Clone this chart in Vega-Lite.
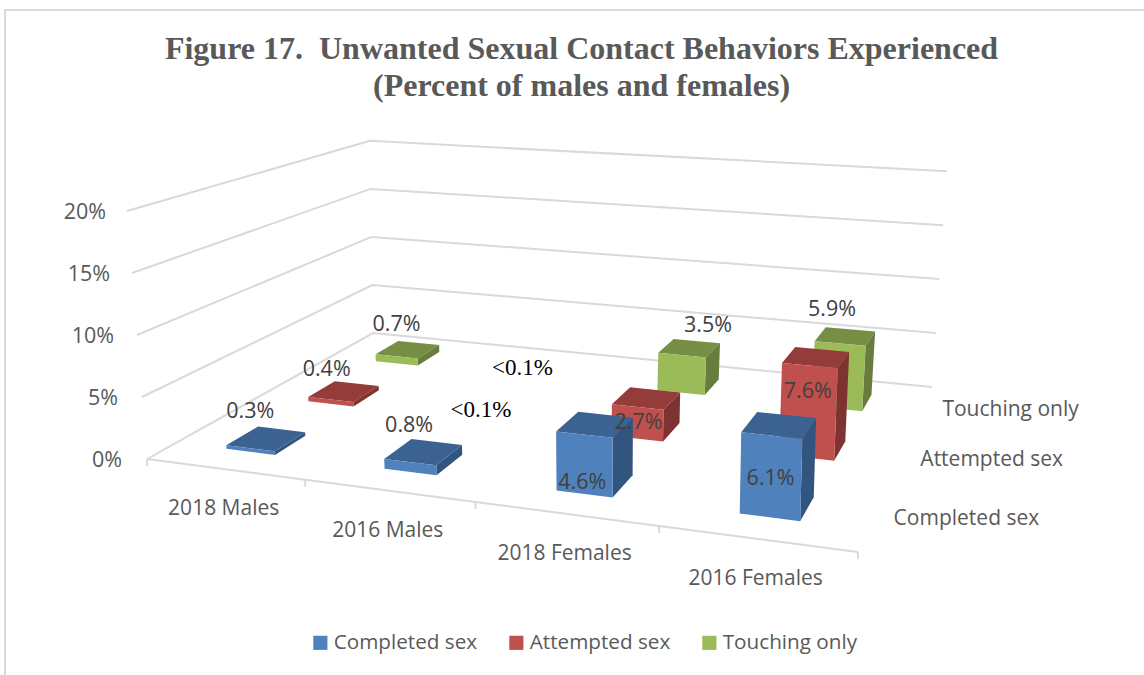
{"$schema":"https://vega.github.io/schema/vega-lite/v6.json","width":1141,"height":667,"padding":{"left":5,"top":10,"right":0,"bottom":0},"autosize":{"type":"none"},"background":"#ffffff","view":{"stroke":"#d9d9d9","strokeWidth":2,"fill":"#ffffff"},"title":{"text":["Figure 17.\u00a0 Unwanted Sexual Contact Behaviors Experienced","(Percent of males and females)"],"font":"Liberation Serif","fontSize":32,"fontWeight":"bold","color":"#595959","lineHeight":37,"anchor":"middle","frame":"group","dx":6,"offset":-125,"baseline":"bottom"},"data":{"values":[
{"kind":"level","value":0},{"kind":"level","value":5},{"kind":"level","value":10},{"kind":"level","value":15},{"kind":"level","value":20},
{"kind":"floor","value":0},
{"kind":"group","group":"2018 Males"},{"kind":"group","group":"2016 Males"},{"kind":"group","group":"2018 Females"},{"kind":"group","group":"2016 Females"},
{"kind":"series","series":"Completed sex"},{"kind":"series","series":"Attempted sex"},{"kind":"series","series":"Touching only"},
{"kind":"bar","group":"2018 Males","series":"Touching only","value":0.7,"label":"0.7%"},
{"kind":"bar","group":"2016 Males","series":"Touching only","value":0,"label":"<0.1%"},
{"kind":"bar","group":"2018 Females","series":"Touching only","value":3.5,"label":"3.5%"},
{"kind":"bar","group":"2016 Females","series":"Touching only","value":5.9,"label":"5.9%"},
{"kind":"bar","group":"2018 Males","series":"Attempted sex","value":0.4,"label":"0.4%"},
{"kind":"bar","group":"2016 Males","series":"Attempted sex","value":0,"label":"<0.1%"},
{"kind":"bar","group":"2018 Females","series":"Attempted sex","value":2.7,"label":"2.7%"},
{"kind":"bar","group":"2016 Females","series":"Attempted sex","value":7.6,"label":"7.6%"},
{"kind":"bar","group":"2018 Males","series":"Completed sex","value":0.3,"label":"0.3%"},
{"kind":"bar","group":"2016 Males","series":"Completed sex","value":0.8,"label":"0.8%"},
{"kind":"bar","group":"2018 Females","series":"Completed sex","value":4.6,"label":"4.6%"},
{"kind":"bar","group":"2016 Females","series":"Completed sex","value":6.1,"label":"6.1%"}
]},
"transform":[
{"calculate":"indexof(['2018 Males','2016 Males','2018 Females','2016 Females'],datum.group)","as":"gi"},
{"calculate":"indexof(['Completed sex','Attempted sex','Touching only'],datum.series)","as":"si"},
{"calculate":"datum.gi+0.343-(datum.si==0&&datum.gi<2?0.012:0)","as":"gl"},{"calculate":"datum.gi+0.657-(datum.si==0&&datum.gi<2?0.012:0)","as":"gr"},{"calculate":"datum.si+0.313","as":"sl"},{"calculate":"datum.si+0.687","as":"sh"},
{"calculate":"datum.kind=='bar'?[{f:'top',i:0,g:datum.gl,s:datum.sl,t:1},{f:'top',i:1,g:datum.gr,s:datum.sl,t:1},{f:'top',i:2,g:datum.gr,s:datum.sh,t:1},{f:'top',i:3,g:datum.gl,s:datum.sh,t:1},{f:'side',i:0,g:datum.gr,s:datum.sl,t:1},{f:'side',i:1,g:datum.gr,s:datum.sh,t:1},{f:'side',i:2,g:datum.gr,s:datum.sh,t:0},{f:'side',i:3,g:datum.gr,s:datum.sl,t:0},{f:'front',i:0,g:datum.gl,s:datum.sl,t:1},{f:'front',i:1,g:datum.gr,s:datum.sl,t:1},{f:'front',i:2,g:datum.gr,s:datum.sl,t:0},{f:'front',i:3,g:datum.gl,s:datum.sl,t:0},{f:'label',i:0,g:datum.gi+0.5,s:datum.sl,t:1}]:datum.kind=='level'?[{f:'grid',i:0,g:0,s:0,t:1},{f:'grid',i:1,g:0,s:3,t:1},{f:'grid',i:2,g:4,s:3,t:1},{f:'lvl',i:0,g:0,s:0,t:1}]:datum.kind=='floor'?[{f:'edge',i:0,g:0,s:0,t:0},{f:'edge',i:1,g:1,s:0,t:0},{f:'edge',i:2,g:2,s:0,t:0},{f:'edge',i:3,g:3,s:0,t:0},{f:'edge',i:4,g:4,s:0,t:0}]:datum.kind=='group'?[{f:'cat',i:0,g:datum.gi+0.5,s:0,t:0}]:[{f:'ser',i:0,g:4,s:datum.si+0.5,t:0}]","as":"verts"},
{"flatten":["verts"],"as":["vert"]},
{"calculate":"datum.vert.f","as":"f"},{"calculate":"datum.vert.i","as":"i"},
{"calculate":"datum.vert.g/4","as":"u"},{"calculate":"datum.vert.s/3","as":"v"},{"calculate":"(datum.value||0)*datum.vert.t*(datum.kind=='bar'?0.98:1)","as":"hh"},
{"calculate":"1-0.14125*datum.u+0.2906*datum.v","as":"w"},
{"calculate":"(1-datum.u)*(-1*(1-datum.v)-0.15*datum.v)+datum.u*(0.45*(1-datum.v)+0.75*datum.v)","as":"lean"},
{"calculate":"(589.8*datum.u+334.4*datum.v+147)/datum.w+datum.hh*datum.lean","as":"px"},
{"calculate":"(15*datum.u-29.2*datum.v+459)/datum.w-datum.hh*12.4/datum.w","as":"py"},
{"calculate":"datum.f=='front'?datum.series:datum.series+' '+datum.f","as":"face"},
{"calculate":"datum.py+7","as":"py2"}
],
"encoding":{
"x":{"field":"px","type":"quantitative","scale":{"domain":[5,1146],"nice":false,"zero":false},"axis":null},
"y":{"field":"py","type":"quantitative","scale":{"domain":[677,10],"nice":false,"zero":false},"axis":null}
},
"layer":[
{"transform":[{"filter":"datum.f=='grid'"}],"mark":{"type":"line","color":"#d9d9d9","strokeWidth":2},"encoding":{"detail":{"field":"value"},"order":{"field":"i"}}},
{"transform":[{"filter":"datum.f=='edge'"}],"mark":{"type":"line","color":"#d9d9d9","strokeWidth":2},"encoding":{"order":{"field":"i"}}},
{"transform":[{"filter":"datum.f=='edge'"}],"mark":{"type":"rule","color":"#d9d9d9","strokeWidth":2},"encoding":{"y2":{"field":"py2"}}},
{"transform":[{"filter":"datum.kind=='bar'&&datum.value>0&&datum.f!='label'"}],"mark":{"type":"line","interpolate":"linear-closed","strokeWidth":0},"encoding":{"fill":{"field":"face","type":"nominal","scale":{"domain":["Completed sex","Attempted sex","Touching only","Completed sex top","Attempted sex top","Touching only top","Completed sex side","Attempted sex side","Touching only side"],"range":["#4f81bd","#c0504d","#9bbb59","#3c6291","#933c3a","#778f44","#325580","#7f3331","#677c3d"]},"legend":{"values":["Completed sex","Attempted sex","Touching only"],"title":null,"orient":"none","legendX":305,"legendY":622,"direction":"horizontal","columns":3,"columnPadding":28,"symbolType":"square","symbolSize":200,"symbolStrokeWidth":0,"symbolOpacity":1,"labelFont":"Open Sans","labelFontSize":20.7,"labelColor":"#595959","labelOffset":3}},"detail":{"field":"label"},"order":{"field":"i"}}},
{"transform":[{"filter":"datum.f=='lvl'"},{"calculate":"datum.px-25+datum.hh*0.2","as":"px"},{"calculate":"datum.py+2","as":"py"},{"calculate":"datum.value+'%'","as":"t"}],"mark":{"type":"text","font":"Open Sans","fontSize":21.5,"color":"#595959","align":"right","baseline":"middle"},"encoding":{"text":{"field":"t"}}},
{"transform":[{"filter":"datum.f=='cat'"},{"calculate":"datum.px-1","as":"px"},{"calculate":"datum.py+40","as":"py"}],"mark":{"type":"text","font":"Open Sans","fontSize":21,"color":"#595959","align":"center","baseline":"middle"},"encoding":{"text":{"field":"group"}}},
{"transform":[{"filter":"datum.f=='ser'"},{"calculate":"datum.px+20","as":"px"},{"calculate":"datum.py+2","as":"py"}],"mark":{"type":"text","font":"Open Sans","fontSize":21,"color":"#595959","align":"left","baseline":"middle"},"encoding":{"text":{"field":"series"}}},
{"transform":[{"filter":"datum.f=='label'"},{"calculate":"{'2018 Males|Completed sex':[-2,-37],'2016 Males|Completed sex':[-3,-36],'2018 Females|Completed sex':[-2,48],'2016 Females|Completed sex':[-1,43],'2018 Males|Attempted sex':[-4,-29],'2016 Males|Attempted sex':[2,-11],'2018 Females|Attempted sex':[1,16],'2016 Females|Attempted sex':[-2,26],'2018 Males|Touching only':[0,-31],'2016 Males|Touching only':[-12,-10],'2018 Females|Touching only':[26,-29],'2016 Females|Touching only':[-8,-33]}[datum.group+'|'+datum.series]","as":"off"},{"calculate":"datum.px+datum.off[0]","as":"px"},{"calculate":"datum.py+datum.off[1]","as":"py"}],"layer":[
{"transform":[{"filter":"datum.value>0"}],"mark":{"type":"text","font":"Open Sans","fontSize":21.5,"color":"#404040","align":"center","baseline":"middle"},"encoding":{"text":{"field":"label"}}},
{"transform":[{"filter":"datum.value==0"}],"mark":{"type":"text","font":"Liberation Serif","fontSize":23,"color":"#000000","align":"center","baseline":"middle"},"encoding":{"text":{"field":"label"}}}
]}
]}
